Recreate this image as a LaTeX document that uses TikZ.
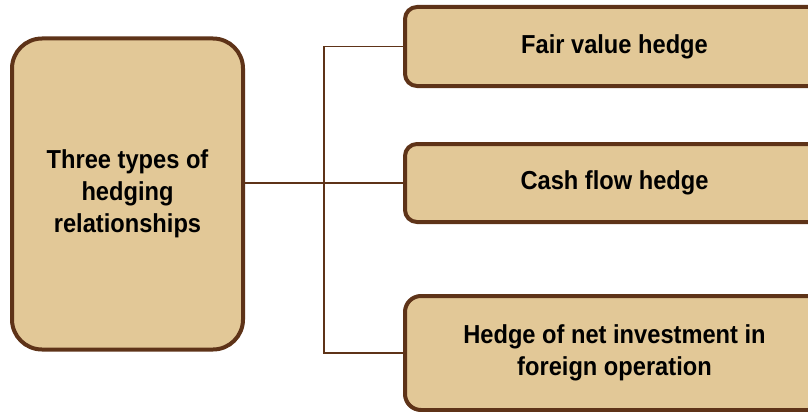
\documentclass[tikz,border=0pt]{standalone}
\usepackage{fontspec}
\setmainfont{Liberation Sans}[FakeStretch=0.91]
\usetikzlibrary{positioning}

\definecolor{boxfill}{HTML}{E2C897}
\definecolor{boxline}{HTML}{5E3318}

\begin{document}
\begin{tikzpicture}[x=1pt,y=-1pt,
    font=\fontsize{26}{32}\selectfont\bfseries,
    hedgebox/.style={draw=boxline,fill=boxfill,line width=4pt,
        rectangle,align=center},
    conn/.style={draw=boxline,line width=1.5pt}]

\useasboundingbox (0,0) rectangle (808,412);

% Main block
\node[hedgebox,
    rounded corners=30pt,
    minimum width=231pt,
    minimum height=311pt] (types) at (127.5,194)
    {Three types of\\hedging\\relationships};

% Fair value
\node[hedgebox,
    rounded corners=12pt,
    minimum width=419pt,
    minimum height=79pt] (fair) at (614.5,46.5) {Fair value hedge};

% Cash flow
\node[hedgebox,
    rounded corners=12pt,
    minimum width=419pt,
    minimum height=78pt] (cash) at (614.5,183) {Cash flow hedge};

% Net investment
\node[hedgebox,
    rounded corners=16pt,
    minimum width=419pt,
    minimum height=114pt] (invest) at (614.5,353)
    {Hedge of net investment in\\foreign operation};

% Connectors
\coordinate (split) at (324,183);
\draw[conn] (types.east |- cash.west) -- (cash.west);
\draw[conn] (fair.west) -| (split) |- (invest.west);

\end{tikzpicture}
\end{document}
